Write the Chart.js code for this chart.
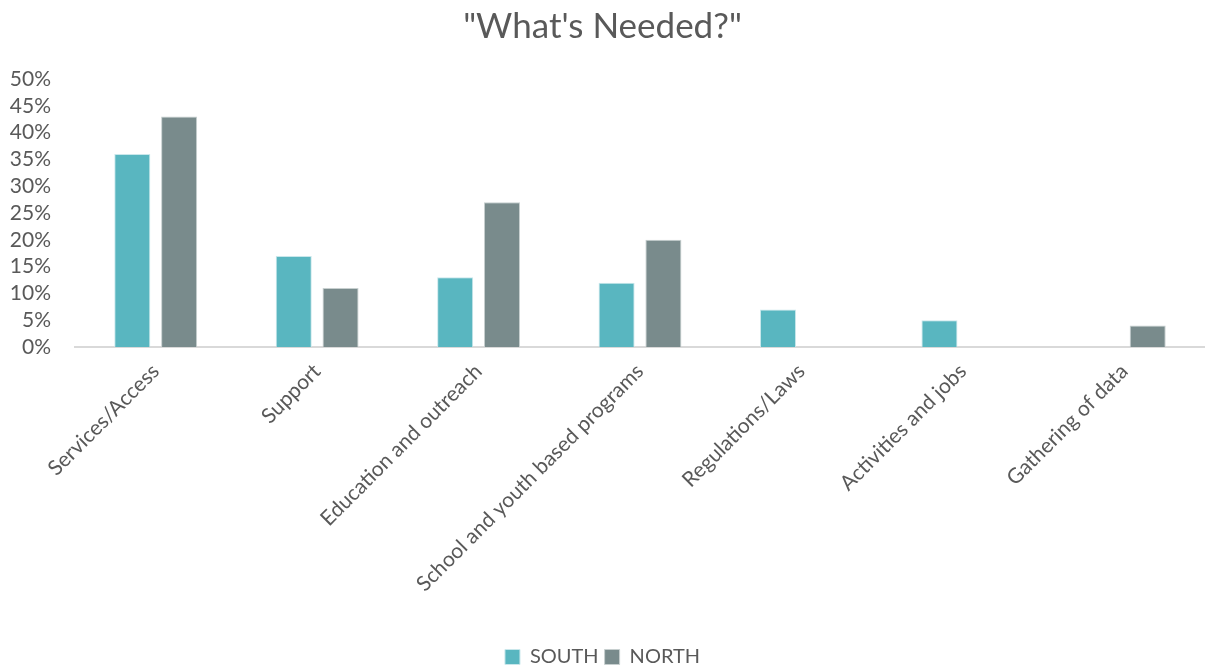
<!DOCTYPE html>
<html>
<head>
<meta charset="utf-8">
<script src="https://cdn.jsdelivr.net/npm/chart.js@4"></script>
<style>
  html, body { margin: 0; padding: 0; background: #fff; }
  #wrap { width: 1205px; height: 669px; }
</style>
</head>
<body>
<div id="wrap"><canvas id="chart" width="1205" height="669"></canvas></div>
<script>
// ---------- DATA ----------
const CATEGORIES = [
  "Services/Access",
  "Support",
  "Education and outreach",
  "School and youth based programs",
  "Regulations/Laws",
  "Activities and jobs",
  "Gathering of data"
];
const SOUTH = [36, 17, 13, 12, 7, 5, null];
const NORTH = [43, 11, 27, 20, null, null, 4];
const Y_MAX = 50;
const Y_STEP = 5;

const TEXT = "#595959";
const FONT = "Lato";

// ---------- CHART ----------
const ctx = document.getElementById("chart");

new Chart(ctx, {
  type: "bar",
  data: {
    labels: CATEGORIES,
    datasets: [
      {
        label: "SOUTH",
        data: SOUTH,
        backgroundColor: "#59B6C0",
        borderColor: "#C9E7EB",
        borderWidth: 1,
        categoryPercentage: 0.58,
        barPercentage: 0.77
      },
      {
        label: "NORTH",
        data: NORTH,
        backgroundColor: "#798B8C",
        borderColor: "#C7CFCF",
        borderWidth: 1,
        categoryPercentage: 0.58,
        barPercentage: 0.77
      }
    ]
  },
  options: {
    responsive: false,
    animation: false,
    layout: { padding: { top: 0, left: 0, right: 0, bottom: -8 } },
    plugins: {
      title: {
        display: true,
        text: "\"What's Needed?\"",
        color: TEXT,
        font: { family: FONT, size: 35, weight: "normal" },
        padding: { top: 6, bottom: 31 }
      },
      legend: {
        position: "bottom",
        labels: {
          color: TEXT,
          font: { family: FONT, size: 20 },
          boxWidth: 15,
          boxHeight: 15,
          padding: 6
        }
      },
      tooltip: { enabled: false }
    },
    scales: {
      x: {
        grid: { display: false },
        border: { color: "#D9D9D9", width: 2 },
        ticks: {
          color: TEXT,
          font: { family: FONT, size: 21 },
          maxRotation: 45,
          minRotation: 45,
          padding: 4
        },
        afterFit: s => { s.height = 294; }
      },
      y: {
        min: 0,
        max: Y_MAX,
        grid: { display: false },
        border: { display: false },
        ticks: {
          stepSize: Y_STEP,
          autoSkip: false,
          color: TEXT,
          font: { family: FONT, size: 21 },
          padding: 16,
          callback: v => v + "%"
        },
        afterFit: s => { s.width = 75; }
      }
    }
  }
});
</script>
</body>
</html>
